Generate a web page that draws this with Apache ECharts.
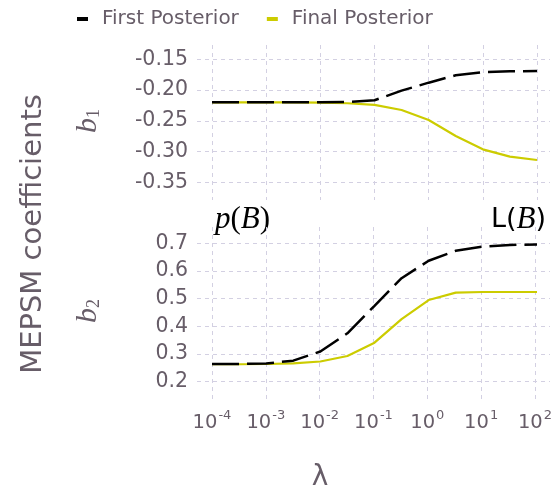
<!DOCTYPE html>
<html>
<head>
<meta charset="utf-8">
<script src="https://cdn.jsdelivr.net/npm/echarts@6/dist/echarts.min.js"></script>
<style>html,body{margin:0;padding:0;background:#fff}#c{width:555px;height:498px}</style>
</head>
<body>
<div id="c"></div>
<script>
// λ sample points (half-decade steps)
var lambdas = [0.0001, 0.000316, 0.001, 0.00316, 0.01, 0.0316, 0.1, 0.316, 1, 3.16, 10, 31.6, 100];
// b1 coefficients
var b1First = [-0.220, -0.220, -0.220, -0.220, -0.220, -0.2195, -0.2165, -0.201, -0.188, -0.176, -0.171, -0.1695, -0.169];
var b1Final = [-0.220, -0.220, -0.220, -0.220, -0.2205, -0.2215, -0.224, -0.2325, -0.2487, -0.2747, -0.2964, -0.3083, -0.3137];
// b2 coefficients
var b2First = [0.264, 0.264, 0.266, 0.276, 0.309, 0.375, 0.474, 0.574, 0.637, 0.673, 0.688, 0.694, 0.696];
var b2Final = [0.263, 0.263, 0.264, 0.266, 0.273, 0.293, 0.341, 0.426, 0.495, 0.522, 0.524, 0.524, 0.524];
var b1Ticks = [-0.35, -0.30, -0.25, -0.20, -0.15];
var b2Ticks = [0.2, 0.3, 0.4, 0.5, 0.6, 0.7];
var seriesNames = ['First Posterior', 'Final Posterior'];

function pairs(xs, ys) { return xs.map(function (x, i) { return [x, ys[i]]; }); }

var textGray = '#675d68';
var gridCol = '#d3d0e2';
var black = '#000000';
var yellow = '#cccc00';

var chart = echarts.init(document.getElementById('c'), null, {renderer: 'canvas'});

function backX(showLabels) {
  return {
    type: 'log', logBase: 10, min: 0.0001, max: 100, splitNumber: 6,
    axisLine: {show: false}, axisTick: {show: false},
    splitLine: {show: true, lineStyle: {color: gridCol, type: [4, 4], width: 1}},
    axisLabel: {
      show: showLabels, margin: 9,
      formatter: function (v) {
        var e = Math.round(Math.log10(v));
        return '{b|10}{s|' + e + '}';
      },
      rich: {
        b: {fontFamily: 'DejaVu Sans', fontSize: 19.5, color: textGray, lineHeight: 24, verticalAlign: 'bottom'},
        s: {fontFamily: 'DejaVu Sans', fontSize: 13, color: textGray, lineHeight: 24, verticalAlign: 'top', padding: [0, 0, 0, 1]}
      }
    }
  };
}
function frontX() {
  return {type: 'log', logBase: 10, min: 0.0000528, max: 173.8, show: false, splitLine: {show: false}};
}
function frontY(ticks, step, digits) {
  return {
    type: 'value', min: ticks[0], max: ticks[ticks.length - 1], interval: step,
    axisLine: {show: false}, axisTick: {show: false},
    splitLine: {show: true, lineStyle: {color: gridCol, type: [4, 4], width: 1}},
    axisLabel: {
      margin: 9, color: textGray, fontFamily: 'DejaVu Sans', fontSize: 20.5,
      formatter: function (v) { return v.toFixed(digits); }
    }
  };
}

var option = {
  backgroundColor: '#ffffff',
  animation: false,
  legend: {
    left: 72, top: 4, itemGap: 28, icon: 'rect', itemWidth: 11, itemHeight: 4,
    data: seriesNames,
    textStyle: {fontFamily: 'DejaVu Sans', fontSize: 20, color: textGray, padding: [0, 0, 0, 9]}
  },
  grid: [
    {left: 212, width: 325, top: 45, height: 155},
    {left: 197, width: 353, top: 59.3, height: 123},
    {left: 212, width: 325, top: 227, height: 173},
    {left: 197, width: 353, top: 243.3, height: 138.4}
  ],
  xAxis: [
    Object.assign(backX(false), {gridIndex: 0}),
    Object.assign(frontX(), {gridIndex: 1}),
    Object.assign(backX(true), {gridIndex: 2}),
    Object.assign(frontX(), {gridIndex: 3})
  ],
  yAxis: [
    {gridIndex: 0, type: 'value', min: 0, max: 1, show: false, splitLine: {show: false}},
    Object.assign(frontY(b1Ticks, 0.05, 2), {gridIndex: 1}),
    {gridIndex: 2, type: 'value', min: 0, max: 1, show: false, splitLine: {show: false}},
    Object.assign(frontY(b2Ticks, 0.1, 1), {gridIndex: 3})
  ],
  series: [
    {name: seriesNames[0], type: 'line', xAxisIndex: 1, yAxisIndex: 1, data: pairs(lambdas, b1First), showSymbol: false, symbol: 'none', z: 4,
      lineStyle: {color: black, width: 2.5, type: [27, 8]}, itemStyle: {color: black}},
    {name: seriesNames[1], type: 'line', xAxisIndex: 1, yAxisIndex: 1, data: pairs(lambdas, b1Final), showSymbol: false, symbol: 'none', z: 3,
      lineStyle: {color: yellow, width: 2.2}, itemStyle: {color: yellow}},
    {name: seriesNames[0], type: 'line', xAxisIndex: 3, yAxisIndex: 3, data: pairs(lambdas, b2First), showSymbol: false, symbol: 'none', z: 4,
      lineStyle: {color: black, width: 2.5, type: [27, 8]}, itemStyle: {color: black}},
    {name: seriesNames[1], type: 'line', xAxisIndex: 3, yAxisIndex: 3, data: pairs(lambdas, b2Final), showSymbol: false, symbol: 'none', z: 3,
      lineStyle: {color: yellow, width: 2.2}, itemStyle: {color: yellow}}
  ],
  graphic: [
    {type: 'text', x: 33, y: 234, rotation: Math.PI / 2,
      style: {text: 'MEPSM coefficients', fontFamily: 'DejaVu Sans', fontSize: 29, fill: textGray, align: 'center', verticalAlign: 'middle'}},
    {type: 'text', x: 320, y: 478, style: {text: 'λ', fontFamily: 'DejaVu Sans', fontSize: 28, fill: textGray, align: 'center', verticalAlign: 'middle'}},
    {type: 'text', x: 88, y: 121, rotation: Math.PI / 2,
      style: {text: '{b|b}{s|1}', align: 'center', verticalAlign: 'middle',
        rich: {b: {fontFamily: 'Liberation Serif', fontStyle: 'italic', fontSize: 30, fill: textGray, lineHeight: 30, verticalAlign: 'top'},
               s: {fontFamily: 'Liberation Serif', fontSize: 18, fill: textGray, lineHeight: 30, verticalAlign: 'bottom'}}}},
    {type: 'text', x: 88, y: 311, rotation: Math.PI / 2,
      style: {text: '{b|b}{s|2}', align: 'center', verticalAlign: 'middle',
        rich: {b: {fontFamily: 'Liberation Serif', fontStyle: 'italic', fontSize: 30, fill: textGray, lineHeight: 30, verticalAlign: 'top'},
               s: {fontFamily: 'Liberation Serif', fontSize: 18, fill: textGray, lineHeight: 30, verticalAlign: 'bottom'}}}},
    {type: 'text', x: 215, y: 220,
      style: {text: '{i|p}{n|(}{i|B}{n|)}', align: 'left', verticalAlign: 'middle',
        rich: {i: {fontFamily: 'Liberation Serif', fontStyle: 'italic', fontSize: 31, fill: '#000'},
               n: {fontFamily: 'Liberation Serif', fontSize: 31, fill: '#000'}}}},
    {type: 'text', x: 546, y: 220,
      style: {text: '{n|L(}{i|B}{n|)}', align: 'right', verticalAlign: 'middle',
        rich: {i: {fontFamily: 'Liberation Serif', fontStyle: 'italic', fontSize: 31, fill: '#000'},
               n: {fontFamily: 'DejaVu Sans', fontSize: 27, fill: '#000'}}}}
  ]
};
chart.setOption(option);
</script>
</body>
</html>
